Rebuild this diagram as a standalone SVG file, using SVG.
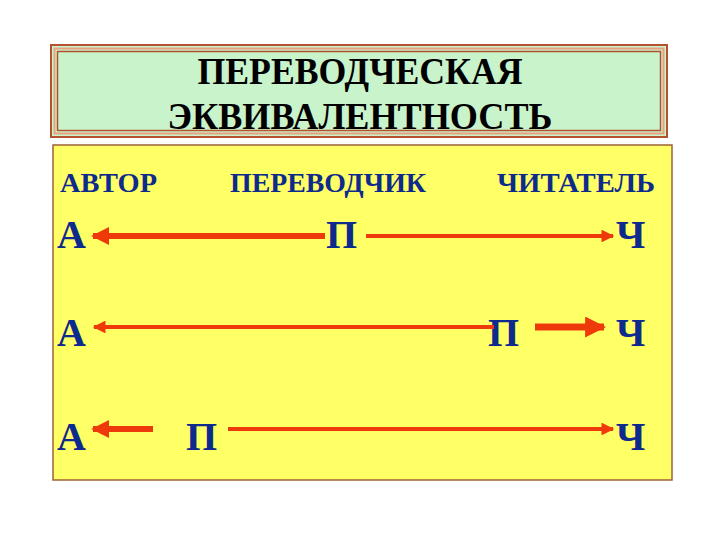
<svg xmlns="http://www.w3.org/2000/svg" width="720" height="540" viewBox="0 0 720 540">
<style>
.t{font-family:"Liberation Serif","DejaVu Serif",serif;font-weight:bold;fill:#000;font-size:38px;text-anchor:middle}
.h{font-family:"Liberation Serif","DejaVu Serif",serif;font-weight:bold;fill:#0d2a8c;font-size:27px}
.l{font-family:"Liberation Serif","DejaVu Serif",serif;font-weight:bold;fill:#0d2a8c;font-size:40px}
.a{stroke:#ee3a0a;fill:none}
</style>
<defs>
<marker id="m" viewBox="0 0 10 10" refX="9" refY="5" markerWidth="3" markerHeight="3" orient="auto" markerUnits="strokeWidth"><path d="M0,0L10,5L0,10z" fill="#ee3a0a"/></marker>
<marker id="mt" viewBox="0 0 10 10" refX="9" refY="5" markerWidth="3.5" markerHeight="3.2" orient="auto" markerUnits="strokeWidth"><path d="M0,0L10,5L0,10z" fill="#ee3a0a"/></marker>
</defs>
<rect width="720" height="540" fill="#fff"/>
<g id="title">
<rect x="51" y="45" width="616" height="92" fill="#c9f3cb" stroke="#b5512e" stroke-width="2"/>
<rect x="54.5" y="48.5" width="609" height="85" fill="none" stroke="#e9a080" stroke-width="2"/>
<rect x="57.5" y="51.5" width="603" height="79" fill="none" stroke="#b5512e" stroke-width="1.5"/>
<text class="t" x="360" y="84" textLength="325" lengthAdjust="spacingAndGlyphs">ПЕРЕВОДЧЕСКАЯ</text>
<text class="t" x="360" y="129" textLength="385" lengthAdjust="spacingAndGlyphs">ЭКВИВАЛЕНТНОСТЬ</text>
</g>
<g id="panel">
<rect x="53" y="145" width="619" height="335" fill="#ffff66" stroke="#a0603a" stroke-width="1.5"/>
<text class="h" x="60" y="192" textLength="97" lengthAdjust="spacingAndGlyphs">АВТОР</text>
<text class="h" x="230" y="192" textLength="196" lengthAdjust="spacingAndGlyphs">ПЕРЕВОДЧИК</text>
<text class="h" x="497" y="192" textLength="158" lengthAdjust="spacingAndGlyphs">ЧИТАТЕЛЬ</text>
</g>
<g id="row1">
<text class="l" x="57" y="248">А</text>
<text class="l" x="326" y="248">П</text>
<text class="l" x="616" y="248">Ч</text>
</g>
<g id="row2">
<text class="l" x="57" y="346">А</text>
<text class="l" x="488" y="346">П</text>
<text class="l" x="616" y="346">Ч</text>
</g>
<g id="row3">
<text class="l" x="57" y="450">А</text>
<text class="l" x="186" y="450">П</text>
<text class="l" x="616" y="450">Ч</text>
</g>
<g id="connectors">
<line class="a" x1="325" y1="236" x2="93" y2="236" stroke-width="6" marker-end="url(#m)"/>
<line class="a" x1="366" y1="236" x2="613" y2="236" stroke-width="4" marker-end="url(#mt)"/>
<line class="a" x1="494" y1="327" x2="94" y2="327" stroke-width="4" marker-end="url(#mt)"/>
<line class="a" x1="535" y1="327" x2="604" y2="327" stroke-width="7" marker-end="url(#m)"/>
<line class="a" x1="153" y1="429" x2="93" y2="429" stroke-width="6" marker-end="url(#m)"/>
<line class="a" x1="228" y1="429" x2="613" y2="429" stroke-width="4" marker-end="url(#mt)"/>
</g>
</svg>
